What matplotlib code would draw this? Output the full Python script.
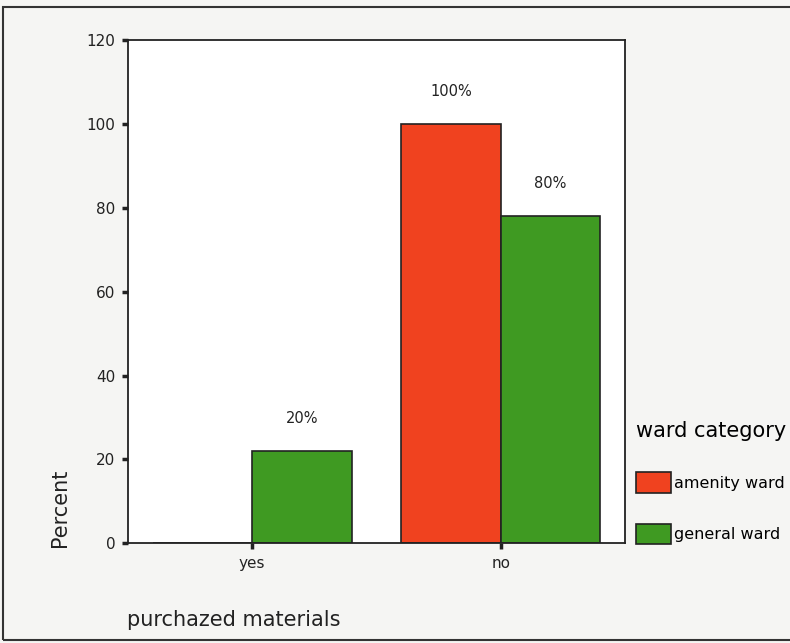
import numpy as np
import matplotlib.pyplot as plt
import matplotlib.patches as patches

categories = ["yes", "no"]
series = ["amenity ward", "general ward"]
amenity = [0, 100]
general = [22, 78]
amenity_labels = [None, "100%"]
general_labels = ["20%", "80%"]
yticks = [0, 20, 40, 60, 80, 100, 120]

red = "#f0421f"
green = "#3f9a22"
paper = "#f5f5f3"

fig = plt.figure(figsize=(7.9, 6.43), dpi=100, facecolor=paper)
ax = fig.add_axes([0.162, 0.155, 0.629, 0.783])
ax.set_facecolor("white")

x = np.arange(len(categories))
w = 0.4
b1 = ax.bar(x - w / 2, amenity, w, color=red, edgecolor="#222222", linewidth=1.2,
            label=series[0])
b2 = ax.bar(x + w / 2, general, w, color=green, edgecolor="#222222", linewidth=1.2,
            label=series[1])

# percentage labels above bars
for rect, lab in zip(b1, amenity_labels):
    if lab:
        ax.annotate(lab, (rect.get_x() + rect.get_width() / 2, rect.get_height()),
                    xytext=(0, 20), textcoords="offset points", ha="center",
                    fontsize=10.5, color="#222222")
for rect, lab in zip(b2, general_labels):
    if lab:
        ax.annotate(lab, (rect.get_x() + rect.get_width() / 2, rect.get_height()),
                    xytext=(0, 20), textcoords="offset points", ha="center",
                    fontsize=10.5, color="#222222")

ax.set_xlim(-0.5, 1.5)
ax.set_ylim(0, 120)
ax.set_yticks(yticks)
ax.set_xticks(x)
ax.set_xticklabels(categories)
ax.tick_params(axis="both", direction="out", length=4, width=2.5, labelsize=11,
               colors="#222222", pad=5)
for s in ax.spines.values():
    s.set_linewidth(1.3)
    s.set_color("#222222")

fig.text(0.076, 0.21, "Percent", rotation=90, ha="center", va="center",
         fontsize=15, color="#222222")
fig.text(0.161, 0.035, "purchazed materials", ha="left", va="center",
         fontsize=15, color="#222222")

leg = ax.legend(loc="upper left", bbox_to_anchor=(1.0, 0.265), frameon=False,
                title="ward category", title_fontsize=15, fontsize=11.5,
                handlelength=2.2, handleheight=1.6, handletextpad=0.15,
                labelspacing=1.95, borderaxespad=0.3)
leg._legend_box.align = "left"

# outer frame of the original chart
fig.add_artist(patches.Rectangle((0.004, 0.005), 1.0, 0.984, transform=fig.transFigure,
                                 fill=False, edgecolor="#333333", linewidth=1.5))

fig.savefig("out.png", dpi=100, facecolor=paper)
